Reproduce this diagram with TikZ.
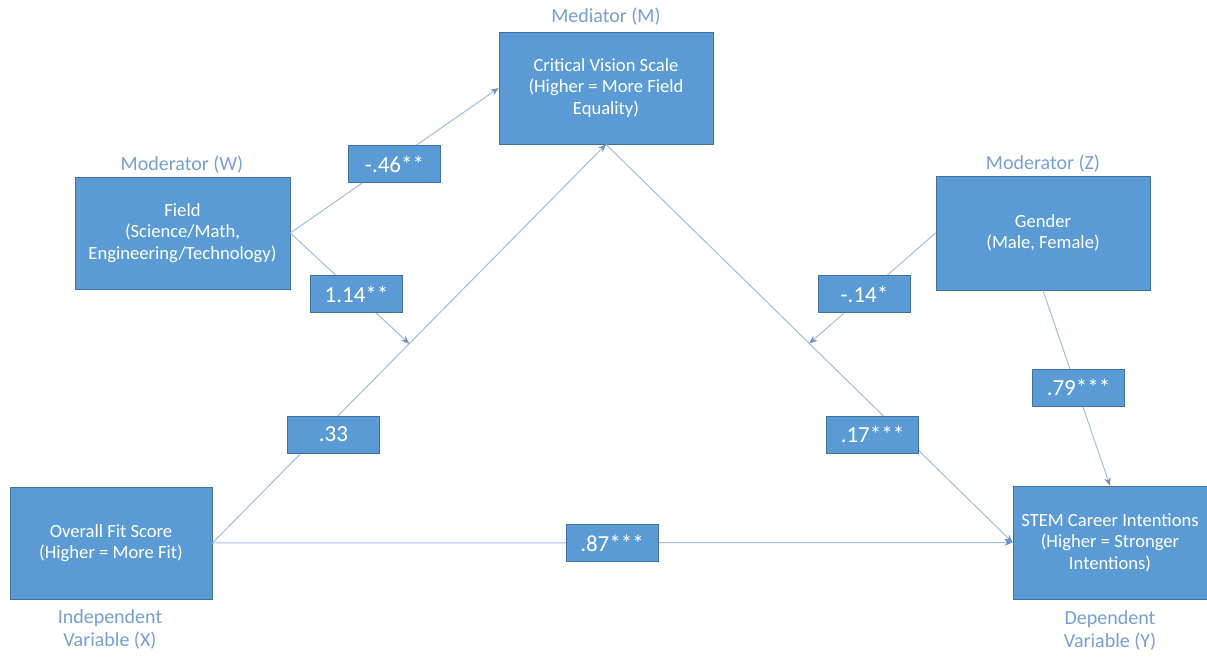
\documentclass[tikz,border=0pt]{standalone}
\usepackage{fontspec}
\setmainfont{Carlito}
\usetikzlibrary{arrows.meta,calc}
\definecolor{boxblue}{RGB}{91,155,213}
\definecolor{boxedge}{RGB}{65,113,156}
\definecolor{linkblue}{RGB}{160,190,225}
\definecolor{tipblue}{RGB}{110,145,195}
\definecolor{capblue}{RGB}{118,160,212}
\tikzset{
	varbox/.style={draw=boxedge, fill=boxblue, line width=0.4pt, text=white, align=center, inner sep=0pt, font=\fontsize{9.3}{10.8}\selectfont},
	coefbox/.style={draw=boxedge, fill=boxblue, line width=0.4pt, text=white, inner sep=0pt, minimum width=46pt, minimum height=18.5pt, font=\fontsize{11.5}{13}\selectfont},
	caption/.style={text=capblue, align=center, inner sep=0pt, font=\fontsize{10}{11.5}\selectfont},
	link/.style={draw=linkblue, line width=0.5pt, -{Stealth[length=4pt,width=3.2pt,color=tipblue]}}
}

\begin{document}
\begin{tikzpicture}[x=0.5pt, y=-0.5pt]
		%%%%% START %%%%%
		
		\fill[white] (0,0) rectangle (1207,658);
		\useasboundingbox (0,0) rectangle (1207,658);
		
		\node[varbox, minimum width=107pt, minimum height=56pt] (med) at (606,88) {Critical Vision Scale\\(Higher = More Field\\Equality)};
		\node[varbox, minimum width=107.5pt, minimum height=56pt] (modw) at (182.5,233) {Field\\(Science/Math,\\Engineering/Technology)};
		\node[varbox, minimum width=107pt, minimum height=57pt] (modz) at (1043,233) {Gender\\(Male, Female)};
		\node[varbox, minimum width=101pt, minimum height=56pt] (indep) at (111,543) {Overall Fit Score\\(Higher = More Fit)};
		\node[varbox, minimum width=97pt, minimum height=56.5pt] (dep) at (1110,542.5) {STEM Career Intentions\\(Higher = Stronger\\Intentions)};
		
		\node[caption] (medcap) at (606,17) {Mediator (M)};
		\node[caption] (modwcap) at (182,165) {Moderator (W)};
		\node[caption] (modzcap) at (1043,164) {Moderator (Z)};
		\node[caption] (indepcap) at (110,629) {Independent\\Variable (X)};
		\node[caption] (depcap) at (1110,630) {Dependent\\Variable (Y)};
		
		\coordinate (midxm) at ($(indep.east)!0.5!(med.south)$);
		\coordinate (midmy) at ($(med.south)!0.5!(dep.west)$);
		
		\draw[link] (indep.east) -- (med.south);
		\draw[link] (indep.east) -- (dep.west);
		\draw[link] (med.south) -- (dep.west);
		\draw[link] (modw.east) -- (med.west);
		\draw[link] (modw.east) -- (midxm);
		\draw[link] (modz.west) -- (midmy);
		\draw[link] (modz.south) -- (dep.north);
		
		\node[coefbox] (cwm) at (394.5,164) {-.46**};
		\node[coefbox] (cwx) at (356.5,294) {1.14**};
		\node[coefbox] (czm) at (864.5,294) {-.14*};
		\node[coefbox] (czy) at (1078.5,387.5) {.79***};
		\node[coefbox] (cxm) at (333.5,434.5) {.33};
		\node[coefbox] (cmy) at (872.5,434.5) {.17***};
		\node[coefbox] (cxy) at (612,543) {.87***};
		
		%%%%% END %%%%%
\end{tikzpicture}
\end{document}
